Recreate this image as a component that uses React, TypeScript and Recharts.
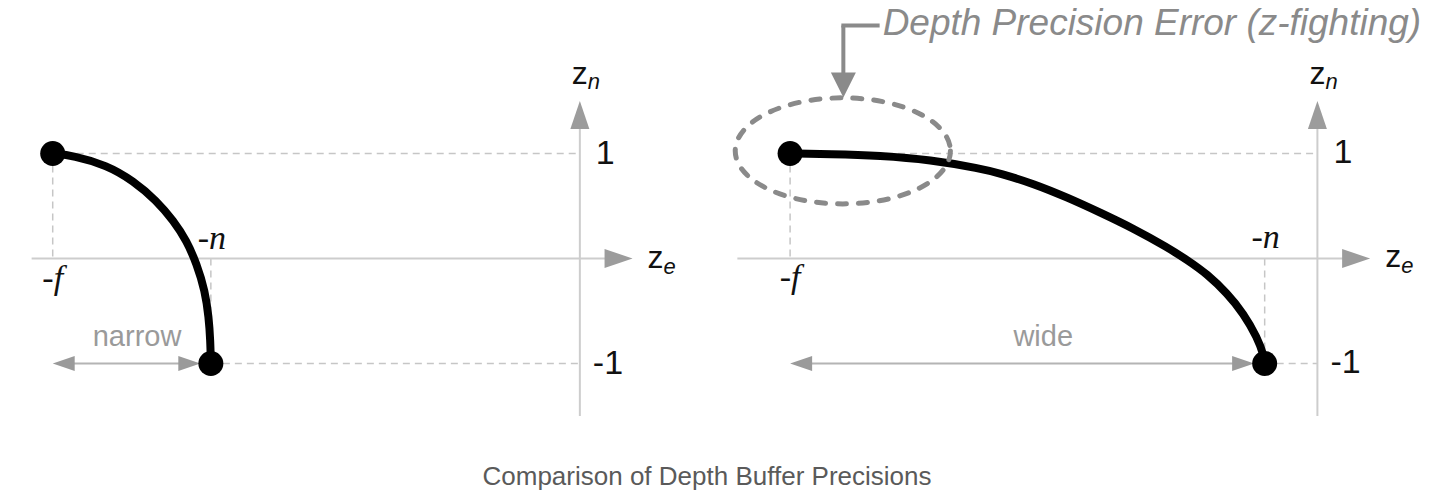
import React from 'react';
import { LineChart, Line, XAxis, YAxis, ReferenceLine, ReferenceDot, ReferenceArea } from 'recharts';

// ---- data (z_e: eye depth, z_n: NDC depth) ----
const leftZe = [-10, -9.61, -8.98, -8.47, -8.03, -7.71, -7.46, -7.27, -7.11, -7.04, -7.01, -7.0];
const leftZn = [1.0, 0.98, 0.89, 0.74, 0.55, 0.36, 0.17, -0.05, -0.31, -0.56, -0.78, -1.0];

const rightZe = [-10, -9.24, -8.29, -7.34, -6.39, -6.01, -5.39, -4.74, -4.12, -3.49, -2.84, -2.47, -2.09, -1.71, -1.4, -1.14, -1.01, -1.0];
const rightZn = [1.0, 0.995, 0.98, 0.94, 0.857, 0.81, 0.714, 0.581, 0.438, 0.286, 0.105, -0.014, -0.148, -0.333, -0.524, -0.752, -0.933, -1.0];

const leftPlanes = { far: -10, near: -7 };
const rightPlanes = { far: -10, near: -1 };

const tickLabels = ['1', '-1'];
const tickValues = [1, -1];
const farLabel = '-f';
const nearLabel = '-n';
const spanLabels = ['narrow', 'wide'];
const spanLabelPos = [
  { x: -8.4, y: -0.83 },
  { x: -5.2, y: -0.83 },
];
const spanArrowEnd = [-7.2, -1.2];
const axisStart = [-10.4, -11];
const axisTipX = 1.0;
const axisYRange = [-1.5, 1.5];

const errorTitle = 'Depth Precision Error (z-fighting)';
const errorEllipse = { x1: -11.04, x2: -6.96, y1: 0.52, y2: 1.53 };
const leaderPts = [
  { x: -8.34, y: 2.219 },
  { x: -8.99, y: 2.219 },
  { x: -8.99, y: 1.533 },
];
const caption = 'Comparison of Depth Buffer Precisions';

const SANS = '"Liberation Sans", Arial, sans-serif';
const SERIF = '"Liberation Serif", "Times New Roman", serif';

type ArrowOpts = {
  color: string;
  lineColor: string;
  width: number;
  head: number;
  half: number;
  start?: boolean;
  end?: boolean;
};

const arrowShape = (o: ArrowOpts) => (p: any) => {
  const { x1, y1, x2, y2 } = p;
  const dx = x2 - x1;
  const dy = y2 - y1;
  const len = Math.hypot(dx, dy) || 1;
  const ux = dx / len;
  const uy = dy / len;
  const px = -uy;
  const py = ux;
  const tri = (tx: number, ty: number, sx: number, sy: number) => {
    const bx = tx - sx * o.head;
    const by = ty - sy * o.head;
    return `${tx},${ty} ${bx + px * o.half},${by + py * o.half} ${bx - px * o.half},${by - py * o.half}`;
  };
  const sx = o.start ? x1 + ux * o.head * 0.7 : x1;
  const sy = o.start ? y1 + uy * o.head * 0.7 : y1;
  const ex = o.end ? x2 - ux * o.head * 0.7 : x2;
  const ey = o.end ? y2 - uy * o.head * 0.7 : y2;
  return (
    <g>
      <line x1={sx} y1={sy} x2={ex} y2={ey} stroke={o.lineColor} strokeWidth={o.width} />
      {o.end && <polygon points={tri(x2, y2, ux, uy)} fill={o.color} />}
      {o.start && <polygon points={tri(x1, y1, -ux, -uy)} fill={o.color} />}
    </g>
  );
};

const textShape =
  (content: React.ReactNode, dx: number, dy: number, style: React.CSSProperties, anchor: string = 'start') =>
  (p: any) =>
    (
      <text x={p.cx + dx} y={p.cy + dy} textAnchor={anchor} style={style}>
        {content}
      </text>
    );

const dotShape = (p: any) => <circle cx={p.cx} cy={p.cy} r={12.5} fill="#000" />;

const ellipseShape = (p: any) => (
  <ellipse
    cx={p.x + p.width / 2}
    cy={p.y + p.height / 2}
    rx={p.width / 2}
    ry={p.height / 2}
    fill="none"
    stroke="#8a8a8a"
    strokeWidth={5}
    strokeDasharray="9 12"
    strokeLinecap="round"
  />
);

const guideProps = {
  stroke: '#c6c6c6',
  strokeWidth: 1.5,
  strokeDasharray: '7 5',
  ifOverflow: 'visible' as const,
  zIndex: 10,
};

const axisArrow = arrowShape({ color: '#9c9c9c', lineColor: '#cdcdcd', width: 2, head: 28, half: 9.5, end: true });
const spanArrow = arrowShape({ color: '#9a9a9a', lineColor: '#b4b4b4', width: 2, head: 22, half: 7.5, start: true, end: true });
const leaderArrow = arrowShape({ color: '#8a8a8a', lineColor: '#8a8a8a', width: 4, head: 25, half: 12.5, end: true });

type PanelProps = {
  idx: number;
  ze: number[];
  zn: number[];
  far: number;
  near: number;
  left: number;
  width: number;
  xDomain: [number, number];
  annotate?: boolean;
};

const labelStyle: React.CSSProperties = { fontFamily: SANS, fontSize: 34, fill: '#111' };
const axisNameStyle: React.CSSProperties = { fontFamily: SANS, fontSize: 32, fill: '#111' };
const planeStyle: React.CSSProperties = { fontFamily: SERIF, fontSize: 34, fontStyle: 'italic', fill: '#111' };

function Panel({ idx, ze, zn, far, near, left, width, xDomain, annotate }: PanelProps) {
  const data = ze.map((v, i) => ({ ze: v, zn: zn[i] }));
  return (
    <div style={{ position: 'absolute', left, top: -4.5 }}>
      <LineChart width={width} height={504} data={data} margin={{ top: 0, right: 0, bottom: 0, left: 0 }}>
        <XAxis type="number" dataKey="ze" domain={xDomain} allowDataOverflow hide />
        <YAxis type="number" dataKey="zn" domain={[-2.3, 2.5]} allowDataOverflow hide />

        {/* dashed guides */}
        <ReferenceLine segment={[{ x: far, y: 1 }, { x: 0, y: 1 }]} {...guideProps} />
        <ReferenceLine segment={[{ x: near, y: -1 }, { x: 0, y: -1 }]} {...guideProps} />
        <ReferenceLine segment={[{ x: far, y: 1 }, { x: far, y: 0 }]} {...guideProps} />
        <ReferenceLine segment={[{ x: near, y: 0 }, { x: near, y: -1 }]} {...guideProps} />

        {/* axes */}
        <ReferenceLine
          segment={[{ x: axisStart[idx], y: 0 }, { x: axisTipX, y: 0 }]}
          shape={axisArrow}
          ifOverflow="visible"
          zIndex={20}
        />
        <ReferenceLine
          segment={[{ x: 0, y: axisYRange[0] }, { x: 0, y: axisYRange[1] }]}
          shape={axisArrow}
          ifOverflow="visible"
          zIndex={20}
        />

        {/* span arrow */}
        <ReferenceLine
          segment={[{ x: far, y: -1 }, { x: spanArrowEnd[idx], y: -1 }]}
          shape={spanArrow}
          ifOverflow="visible"
          zIndex={20}
        />

        <Line
          type="basis"
          dataKey="zn"
          stroke="#000"
          strokeWidth={8}
          dot={false}
          activeDot={false}
          isAnimationActive={false}
          zIndex={400}
        />

        {annotate && (
          <ReferenceArea
            x1={errorEllipse.x1}
            x2={errorEllipse.x2}
            y1={errorEllipse.y1}
            y2={errorEllipse.y2}
            shape={ellipseShape}
            ifOverflow="visible"
            zIndex={450}
          />
        )}
        {annotate && (
          <ReferenceLine
            segment={[leaderPts[0], leaderPts[1]]}
            stroke="#8a8a8a"
            strokeWidth={4}
            strokeLinecap="square"
            ifOverflow="visible"
            zIndex={450}
          />
        )}
        {annotate && (
          <ReferenceLine segment={[leaderPts[1], leaderPts[2]]} shape={leaderArrow} ifOverflow="visible" zIndex={450} />
        )}
        {annotate && (
          <ReferenceDot
            x={leaderPts[0].x}
            y={leaderPts[0].y}
            ifOverflow="visible"
            zIndex={600}
            shape={textShape(errorTitle, 5, 9, {
              fontFamily: SANS,
              fontSize: 37,
              fontStyle: 'italic',
              fill: '#8a8a8a',
            })}
          />
        )}

        {/* end-point dots */}
        <ReferenceDot x={far} y={1} shape={dotShape} ifOverflow="visible" zIndex={500} />
        <ReferenceDot x={near} y={-1} shape={dotShape} ifOverflow="visible" zIndex={500} />

        {/* labels */}
        <ReferenceDot x={0} y={tickValues[0]} ifOverflow="visible" zIndex={600} shape={textShape(tickLabels[0], 16, 10, labelStyle)} />
        <ReferenceDot x={0} y={tickValues[1]} ifOverflow="visible" zIndex={600} shape={textShape(tickLabels[1], 13, 10, labelStyle)} />
        <ReferenceDot
          x={0}
          y={axisYRange[1]}
          ifOverflow="visible"
          zIndex={600}
          shape={textShape(
            <>
              <tspan>z</tspan>
              <tspan style={{ fontSize: 22, fontStyle: 'italic' }} dy={5}>
                n
              </tspan>
            </>,
            -8,
            -17,
            axisNameStyle
          )}
        />
        <ReferenceDot
          x={axisTipX}
          y={0}
          ifOverflow="visible"
          zIndex={600}
          shape={textShape(
            <>
              <tspan>z</tspan>
              <tspan style={{ fontSize: 22, fontStyle: 'italic' }} dy={6}>
                e
              </tspan>
            </>,
            15,
            9,
            axisNameStyle
          )}
        />
        <ReferenceDot
          x={far}
          y={0}
          ifOverflow="visible"
          zIndex={600}
          shape={textShape(farLabel, 0, 30, planeStyle, 'middle')}
        />
        <ReferenceDot
          x={near}
          y={0}
          ifOverflow="visible"
          zIndex={600}
          shape={textShape(nearLabel, 1, -10, planeStyle, 'middle')}
        />
        <ReferenceDot
          x={spanLabelPos[idx].x}
          y={spanLabelPos[idx].y}
          ifOverflow="visible"
          zIndex={600}
          shape={textShape(spanLabels[idx], 0, 0, { fontFamily: SANS, fontSize: 29, fill: '#9a9a9a' }, 'middle')}
        />
      </LineChart>
    </div>
  );
}

export default function App() {
  return (
    <div
      style={{
        position: 'absolute',
        left: 0,
        top: 0,
        width: 1437,
        height: 503,
        overflow: 'hidden',
        background: '#fff',
      }}
    >
      <Panel
        idx={0}
        ze={leftZe}
        zn={leftZn}
        far={leftPlanes.far}
        near={leftPlanes.near}
        left={0}
        width={738}
        xDomain={[-11, 3]}
      />
      <Panel
        idx={1}
        ze={rightZe}
        zn={rightZn}
        far={rightPlanes.far}
        near={rightPlanes.near}
        left={710.6}
        width={727.7}
        xDomain={[-11.5, 2.3]}
        annotate
      />
      <div
        style={{
          position: 'absolute',
          left: 0,
          top: 463,
          width: 1414,
          textAlign: 'center',
          fontFamily: SANS,
          fontSize: 26,
          lineHeight: '26px',
          color: '#5a5a5a',
          whiteSpace: 'nowrap',
        }}
      >
        {caption}
      </div>
    </div>
  );
}
